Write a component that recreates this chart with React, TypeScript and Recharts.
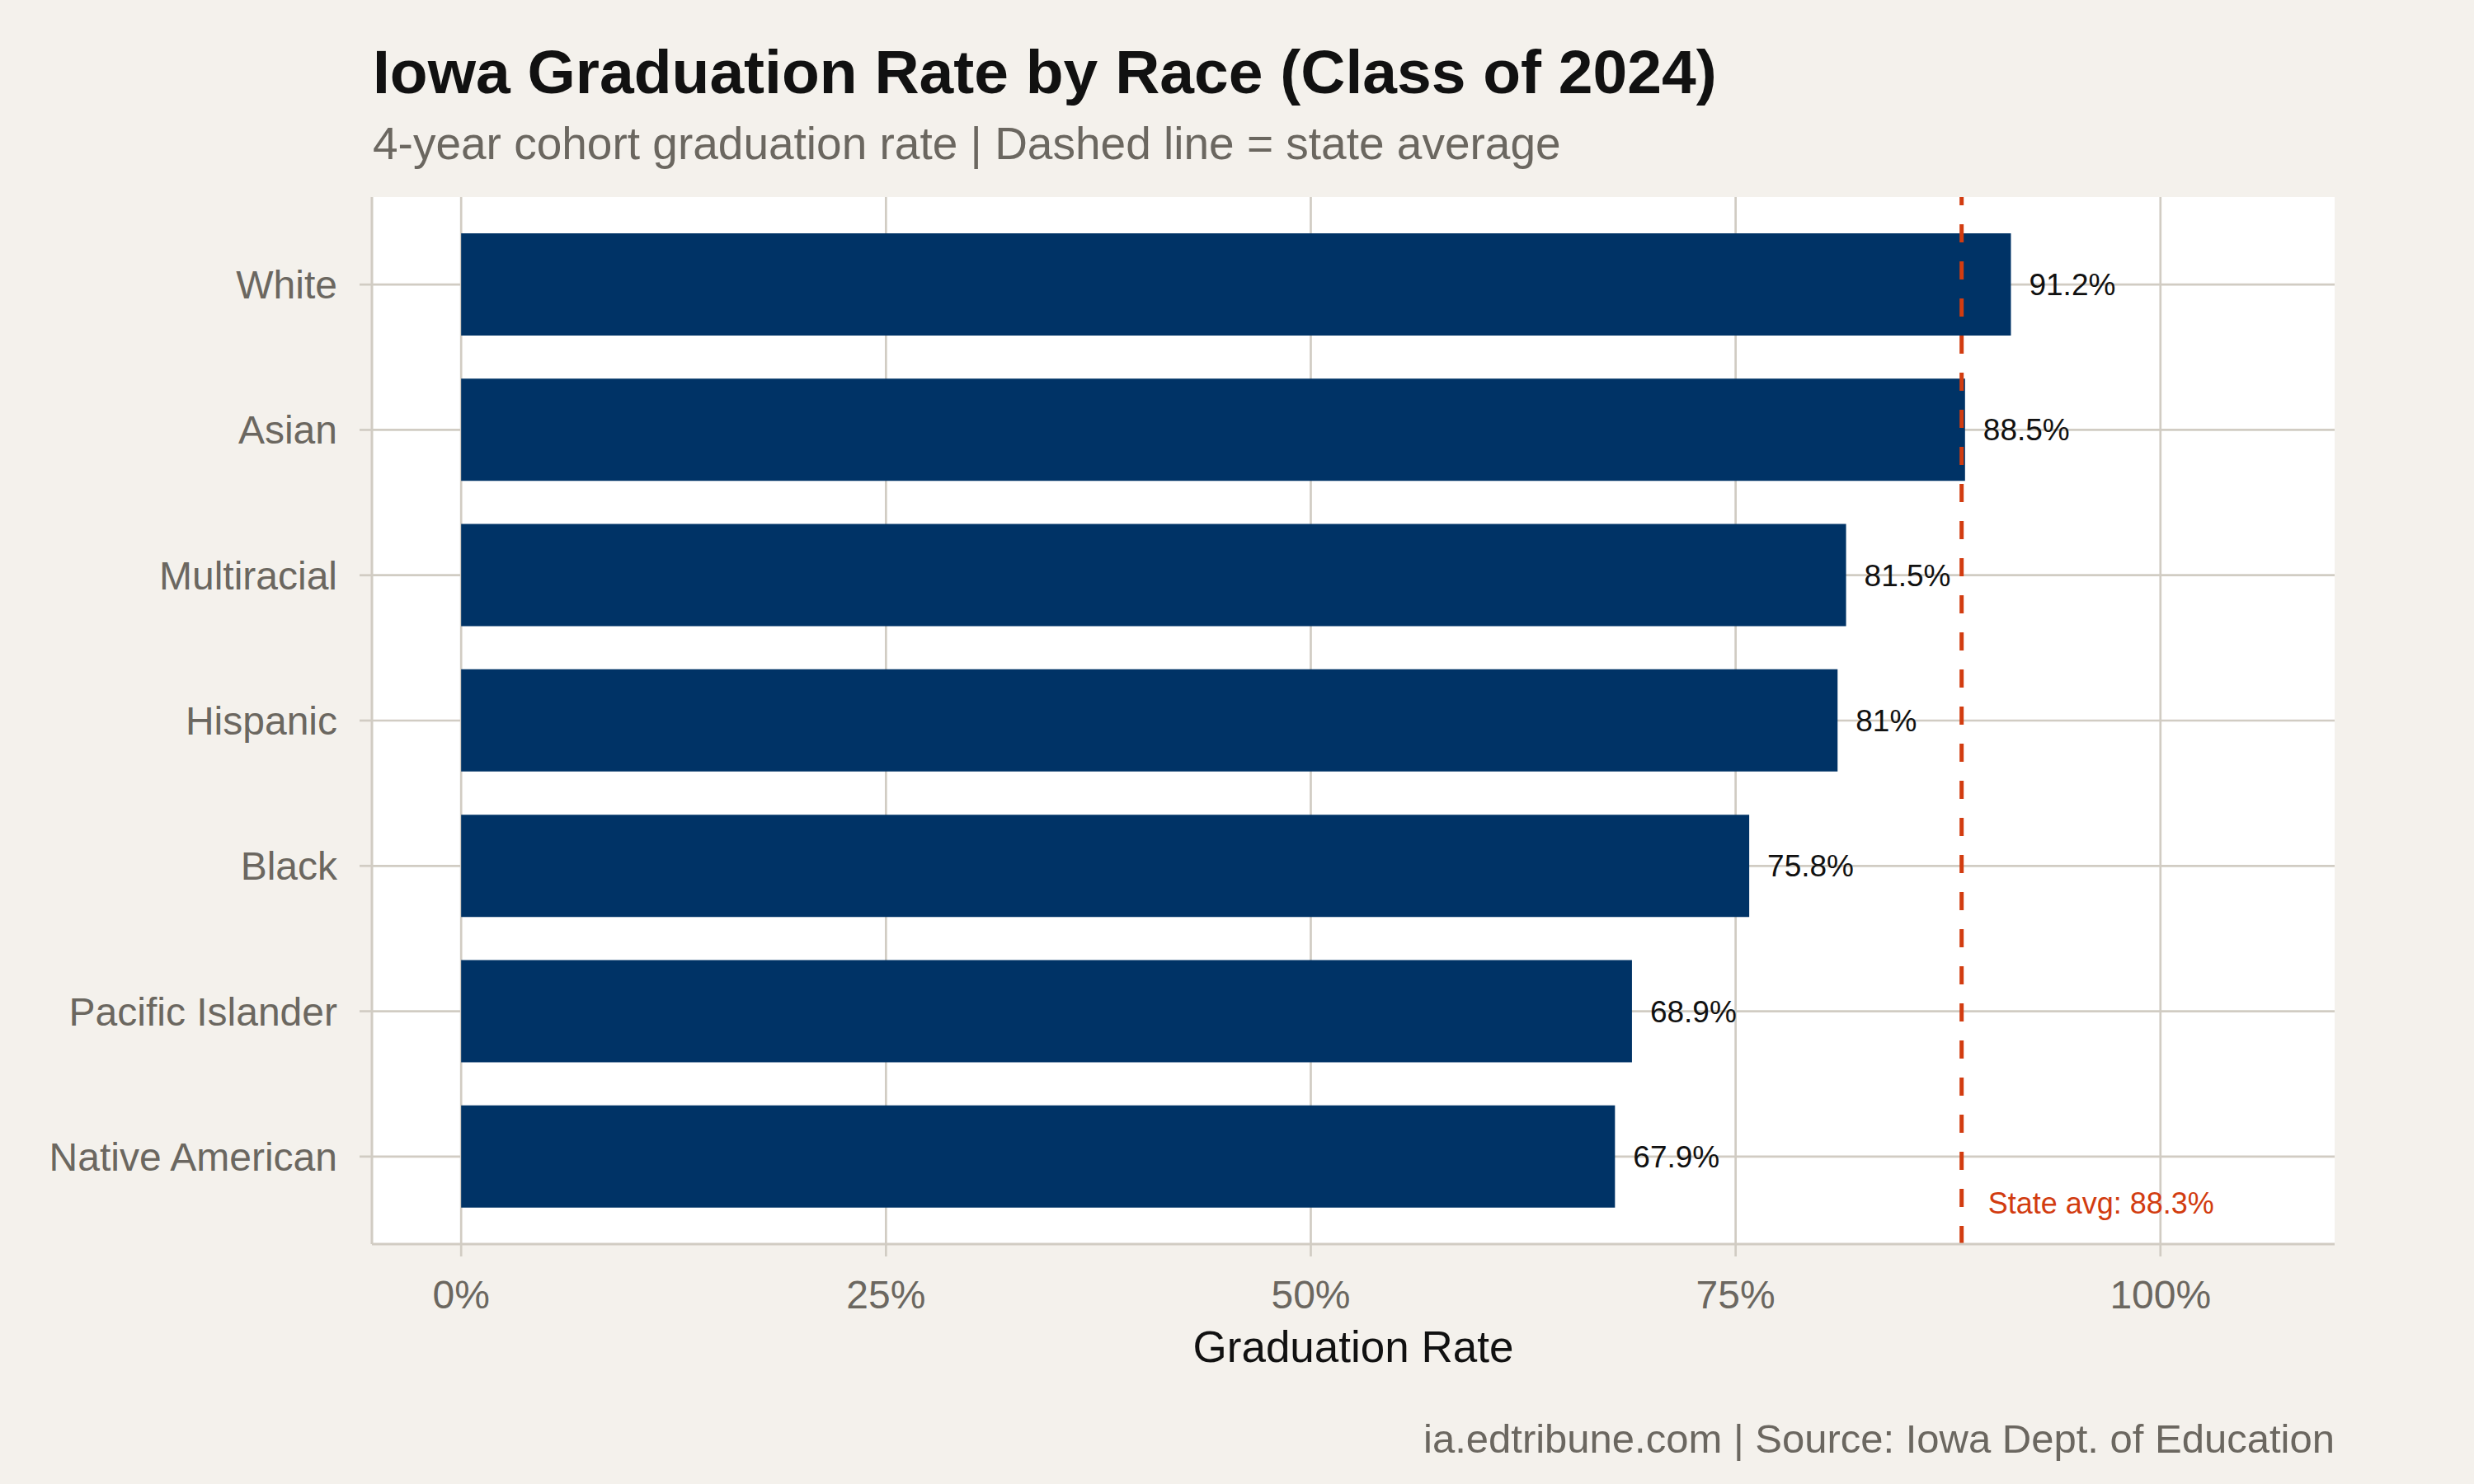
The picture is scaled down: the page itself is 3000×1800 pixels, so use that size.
import {
  BarChart,
  Bar,
  XAxis,
  YAxis,
  CartesianGrid,
  ReferenceLine,
  LabelList,
} from "recharts";

const categories = [
  "White",
  "Asian",
  "Multiracial",
  "Hispanic",
  "Black",
  "Pacific Islander",
  "Native American",
];
const gradRates = [91.2, 88.5, 81.5, 81, 75.8, 68.9, 67.9];
const stateAverage = 88.3;
const xTicks = [0, 25, 50, 75, 100];

const FONT = "'Liberation Sans', Arial, Helvetica, sans-serif";
const BG = "#f4f1ec";
const GRID = "#d1ccc3";
const MUTED = "#6b6760";
const BAR = "#003366";
const RED = "#d23c10";

const data = categories.map((race, i) => ({ race, rate: gradRates[i] }));

const StateAvgLabel = ({ viewBox }: any) => {
  if (!viewBox) return null;
  return (
    <text
      x={viewBox.x + 32}
      y={viewBox.y + viewBox.height - 37}
      fill={RED}
      fontSize={36}
      fontFamily={FONT}
    >
      {`State avg: ${stateAverage}%`}
    </text>
  );
};

const App = () => {
  return (
    <div
      style={{
        position: "absolute",
        top: 0,
        left: 0,
        width: 3000,
        height: 1800,
        background: BG,
        fontFamily: FONT,
      }}
    >
      <BarChart
        width={3000}
        height={1800}
        data={data}
        layout="vertical"
        margin={{ top: 239, right: 169, bottom: 171, left: 0 }}
        barSize={124}
      >
        {/* grid only at the ticks, no panel border */}
        <CartesianGrid
          fill="#ffffff"
          stroke={GRID}
          strokeWidth={2.7}
          syncWithTicks
        />
        <XAxis
          type="number"
          domain={[-5.25, 110.25]}
          ticks={xTicks}
          tickFormatter={(v) => `${v}%`}
          height={120}
          tickSize={15}
          tickMargin={29}
          axisLine={{ stroke: GRID, strokeWidth: 3 }}
          tickLine={{ stroke: GRID, strokeWidth: 2.7 }}
          tick={{ fill: MUTED, fontSize: 48, fontFamily: FONT }}
          allowDataOverflow
        />
        <YAxis
          type="category"
          dataKey="race"
          width={451}
          tickSize={15}
          tickMargin={27}
          padding={{ top: 18, bottom: 18 }}
          axisLine={{ stroke: GRID, strokeWidth: 3 }}
          tickLine={{ stroke: GRID, strokeWidth: 2.7 }}
          tick={{ fill: MUTED, fontSize: 48, fontFamily: FONT }}
          interval={0}
        />
        <Bar dataKey="rate" fill={BAR} isAnimationActive={false}>
          <LabelList
            dataKey="rate"
            position="right"
            offset={22}
            formatter={(v: any) => `${v}%`}
            fill="#111111"
            fontSize={37}
            fontFamily={FONT}
          />
        </Bar>
        <ReferenceLine
          x={stateAverage}
          stroke={RED}
          strokeWidth={5}
          strokeDasharray="22 23"
          label={<StateAvgLabel />}
        />
      </BarChart>
      <svg
        width={3000}
        height={1800}
        style={{ position: "absolute", top: 0, left: 0, pointerEvents: "none" }}
      >
        <text x={452} y={113} fontSize={75} fontWeight="bold" fill="#111111" fontFamily={FONT}>
          Iowa Graduation Rate by Race (Class of 2024)
        </text>
        <text x={452} y={193} fontSize={55} fill={MUTED} fontFamily={FONT}>
          4-year cohort graduation rate | Dashed line = state average
        </text>
        <text x={1641} y={1652} fontSize={53} fill="#111111" textAnchor="middle" fontFamily={FONT}>
          Graduation Rate
        </text>
        <text x={2831} y={1762} fontSize={49} fill={MUTED} textAnchor="end" fontFamily={FONT}>
          ia.edtribune.com | Source: Iowa Dept. of Education
        </text>
      </svg>
    </div>
  );
};

export default App;
